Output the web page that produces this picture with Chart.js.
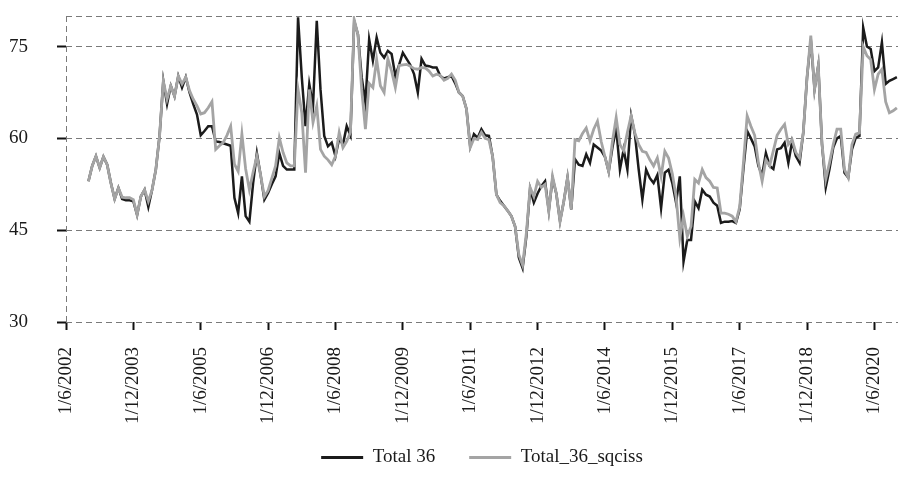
<!DOCTYPE html>
<html>
<head>
<meta charset="utf-8">
<script src="https://cdn.jsdelivr.net/npm/chart.js@4/dist/chart.umd.min.js"></script>
<style>
  body { margin: 0; background: #fff; }
  #wrap { width: 900px; height: 477px; }
</style>
</head>
<body>
<div id="wrap"><canvas id="chart"></canvas></div>
<script>
//monthly series, first value is 6 months after 1/6/2002

const tickLabels = ['1/6/2002', '1/12/2003', '1/6/2005', '1/12/2006', '1/6/2008', '1/12/2009',
  '1/6/2011', '1/12/2012', '1/6/2014', '1/12/2015', '1/6/2017', '1/12/2018', '1/6/2020'];
const tickStep = 18;   // months between two date labels
const startMonth = 6;  // first observation, in months after 1/6/2002
const lastMonth = 222.3;
const yTicks = [30, 45, 60, 75, 80];

const total36 = [
  53, 55.5, 57.1, 55.2, 57, 55.7, 52.7, 50.1, 51.9, 50.1, 49.9, 49.9,
  49.7, 47.5, 50.5, 51.6, 48.8, 51.6, 54.9, 60.4, 69.4, 65.6, 68.6, 66.9,
  70.2, 68.3, 70, 67.5, 65.6, 63.9, 60.5, 61.2, 62, 62, 59.5, 59.4,
  59.2, 59, 58.8, 50.3, 47.8, 53.8, 47.3, 46.4, 52.7, 57.6, 54, 50,
  51.1, 52.5, 53.8, 57.6, 55.5, 54.9, 54.9, 54.9, 79.8, 70, 62, 68.9,
  65.3, 79.2, 68, 60.4, 58.7, 59.3, 57.1, 60, 59, 62, 60.5, 79.2,
  77, 70, 65.8, 76.2, 72.7, 76.5, 74, 73.2, 74.3, 73.8, 70.2, 72,
  74, 73, 72, 70.5, 67.5, 73, 71.9, 71.8, 71.6, 71.6, 70.2, 69.8,
  70, 70.2, 69, 67.5, 66.9, 64.8, 58.7, 60.7, 60.1, 61.5, 60.5, 60.4,
  57, 50.8, 49.8, 49, 48.2, 47.3, 45.6, 40.5, 38.8, 44, 51.8, 49.5,
  51, 52.2, 53, 48.2, 53.5, 51, 46.5, 49.7, 53.6, 48.4, 56.6, 55.7,
  55.5, 57.4, 56, 59, 58.5, 58, 57, 54.6, 58.5, 61.7, 54.9, 58.2,
  54.9, 63.7, 60.7, 55, 50, 54.9, 53.5, 52.7, 54, 48.6, 54.4, 54.9,
  52.7, 49.5, 53.8, 39.9, 43.4, 43.4, 49.7, 48.6, 51.6, 50.8, 50.5, 49.5,
  49, 46.2, 46.4, 46.4, 46.5, 46.2, 48.4, 55, 61.2, 60, 58.7, 55.5,
  54, 57.6, 55.5, 55, 58.2, 58.4, 59.3, 56, 59.5, 57.1, 56, 61,
  70, 76.2, 68, 71.9, 59, 52, 55, 58.5, 60, 60.4, 54.4, 53.6,
  58.2, 60.1, 60.4, 78.1, 75, 74.6, 71, 71.6, 75.7, 68.9, 69.4, 69.7,
  70
];

const total36Sqciss = [
  53, 55.5, 57.1, 55.2, 57, 55.7, 52.7, 50.1, 51.9, 50.4, 50.3, 50.3,
  50, 47.5, 50.5, 51.6, 49.7, 51.6, 54.9, 60.4, 69.4, 66.4, 68.6, 66.9,
  70.2, 68.9, 70, 67.8, 66.4, 65.3, 64, 64.2, 65, 66, 58.2, 58.8,
  59.3, 60.5, 62, 55.8, 54.6, 60.7, 55, 51.6, 54.5, 57.1, 54, 50.5,
  51.5, 53.5, 55.5, 60.1, 57.7, 56, 55.5, 55.5, 68, 64.2, 54.4, 68,
  62.6, 65.3, 58.2, 57.1, 56.5, 55.7, 57.1, 61, 58.5, 59.5, 61, 79.4,
  77, 68, 61.5, 69, 68.3, 72.9, 68.6, 67.5, 73, 71, 68.3, 71.9,
  72, 72.1, 71.8, 71.4, 71.3, 71.6, 71.5, 71, 70.2, 70.5, 70.3, 69.5,
  69.8, 70.5, 69.5, 67.5, 66.9, 64.8, 58.5, 60, 59.8, 61, 60, 59.8,
  57, 50.8, 49.5, 49, 48.2, 47.3, 45.6, 41, 39.3, 44.5, 52, 50.5,
  53, 52, 52.5, 48.1, 53.8, 51, 46.4, 49.7, 53.6, 48.4, 59.8, 59.6,
  60.8, 61.7, 59.6, 61.5, 62.8, 59.5, 57, 54.6, 59.5, 63.4, 59, 58,
  61, 63.7, 60.9, 59, 57.9, 57.7, 56.5, 55.5, 56.8, 53.8, 57.9, 56.8,
  54.2, 50.5, 43.7, 47.3, 44, 45.6, 53.3, 52.7, 54.9, 53.6, 53, 52,
  51.9, 47.8, 47.8, 47.6, 47.3, 46.4, 48.8, 56, 63.7, 62, 60.5, 56,
  53, 56.5, 55.5, 58, 60.5, 61.5, 62.3, 59, 59.8, 57.7, 56.8, 61,
  70, 76.8, 68, 71.9, 59, 53.3, 56, 59, 61.5, 61.5, 54.9, 53.6,
  59, 60.7, 60.9, 75, 73.5, 72.9, 68, 70.5, 71.3, 66, 64.2, 64.5,
  65
];

const gridGray = '#7a7a7a';
const serif = { family: "'Liberation Serif', 'DejaVu Serif', serif", size: 19 };

// turn a value list into {x: month, y: value} points
function toPoints(values) {
  return values.map((v, i) => ({ x: startMonth + i, y: v }));
}

Chart.defaults.font = serif;
Chart.defaults.color = '#1a1a1a';

const chart_elem = document.getElementById('chart');
const chart = new Chart(chart_elem, {
  type: 'line',
  data: {
    datasets: [{
      label: 'Total 36',
      data: toPoints(total36),
      borderColor: '#1b1b1b',
      backgroundColor: '#1b1b1b',
      borderWidth: 2.5,
      order: 2
    }, {
      label: 'Total_36_sqciss',
      data: toPoints(total36Sqciss),
      borderColor: '#a4a4a4',
      backgroundColor: '#a4a4a4',
      borderWidth: 2.8,
      order: 1
    }]
  },
  options: {
    responsive: true,
    maintainAspectRatio: false,
    animation: false,
    layout: { padding: { left: 0, right: 2, top: 16, bottom: 0 } },
    elements: {
      point: { radius: 0 },
      line: { tension: 0 }
    },
    scales: {
      x: {
        type: 'linear',
        min: 0,
        max: lastMonth,
        afterBuildTicks: (scale) => {
          scale.ticks = tickLabels.map((_, i) => ({ value: i * tickStep }));
        },
        afterFit: (scale) => {
          scale.height = 92;
          scale.paddingLeft = 0;
          scale.paddingRight = 0;
          // date labels run a little into the legend band, do not clip them
          scale._computeLabelArea = () => undefined;
        },
        ticks: {
          autoSkip: false,
          minRotation: 90,
          maxRotation: 90,
          padding: 17,
          callback: (value) => tickLabels[value / tickStep]
        },
        grid: {
          color: (ctx) => (ctx.tick && ctx.tick.value === 0) ? gridGray : 'rgba(0,0,0,0)',
          tickColor: '#111',
          tickLength: 8,
          tickWidth: 2
        },
        border: { display: false, dash: [6, 4] }
      },
      y: {
        min: 30,
        max: 80,
        afterBuildTicks: (scale) => {
          scale.ticks = yTicks.map((v) => ({ value: v }));
        },
        afterFit: (scale) => {
          scale.width = 66;
          scale.paddingTop = 0;
          scale.paddingBottom = 0;
        },
        ticks: {
          padding: 29,
          callback: (value) => value === 80 ? '' : value
        },
        grid: {
          color: gridGray,
          tickColor: (ctx) => (ctx.tick && ctx.tick.value === 80) ? 'rgba(0,0,0,0)' : '#111',
          tickLength: 9,
          tickWidth: 2
        },
        border: { display: false, dash: [6, 4] }
      }
    },
    plugins: {
      tooltip: { enabled: false },
      legend: {
        position: 'bottom',
        fullSize: false,
        labels: {
          boxWidth: 42,
          boxHeight: 3,
          padding: 34,
          font: serif,
          sort: (a, b) => a.datasetIndex - b.datasetIndex,
          generateLabels: (chart) => Chart.defaults.plugins.legend.labels.generateLabels(chart)
            .map((item) => ({ ...item, lineWidth: 0 }))
        }
      }
    }
  }
});
</script>
</body>
</html>
